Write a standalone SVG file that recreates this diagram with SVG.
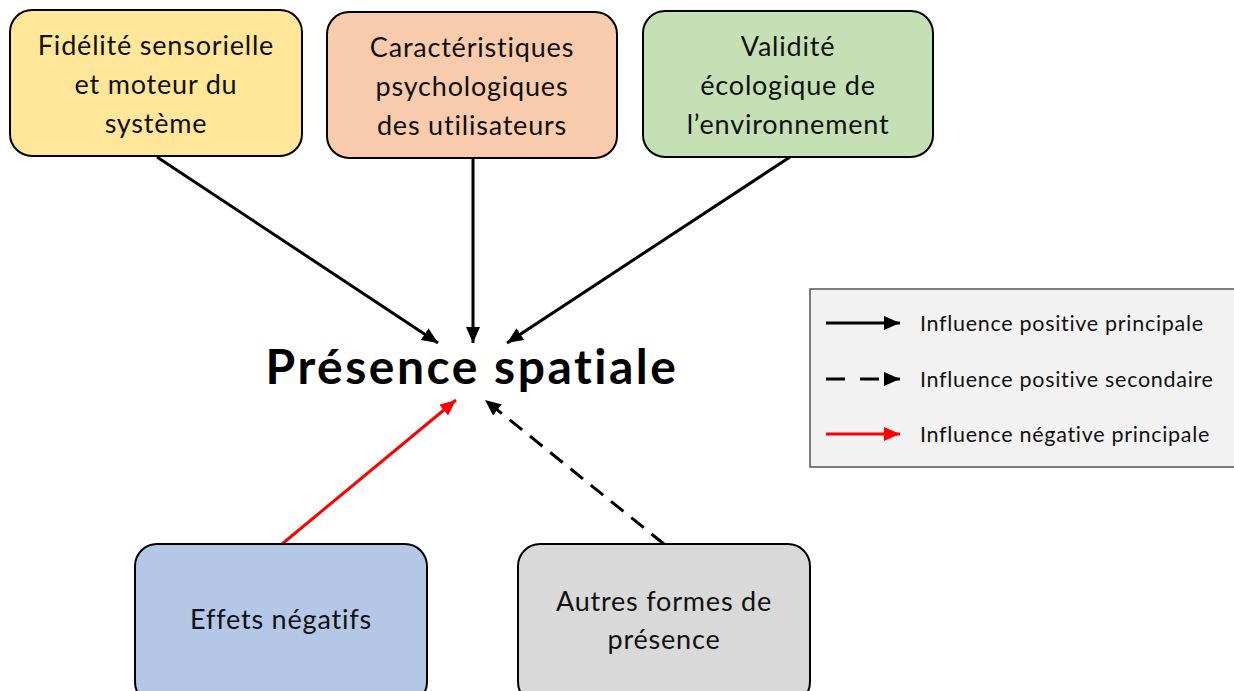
<svg xmlns="http://www.w3.org/2000/svg" width="1234" height="691" viewBox="0 0 1234 691">
<style>
text{font-variant-ligatures:none;font-feature-settings:"liga" 0}
.box{stroke:#000;stroke-width:2}
.t{font-family:Lato,"Liberation Sans",sans-serif;font-size:27px;letter-spacing:0.8px;fill:#111;text-anchor:middle}
.lg{font-family:Lato,"Liberation Sans",sans-serif;font-size:21.5px;letter-spacing:0.7px;fill:#111}
.c{stroke:#000;stroke-width:3;fill:none}
.r{stroke:#ff0000;stroke-width:3;fill:none}
.d{stroke-dasharray:16 10}
</style>
<defs>
<marker id="ab" markerUnits="userSpaceOnUse" markerWidth="18" markerHeight="16" refX="16" refY="7" orient="auto"><path d="M0,0 L16,7 L0,14 Z" fill="#000"/></marker>
<marker id="ar" markerUnits="userSpaceOnUse" markerWidth="18" markerHeight="16" refX="16" refY="7" orient="auto"><path d="M0,0 L16,7 L0,14 Z" fill="#ff0000"/></marker>
</defs>
<rect width="1234" height="691" fill="#fff"/>
<g id="connectors">
<line class="c" x1="157" y1="157" x2="438" y2="343" marker-end="url(#ab)"/>
<line class="c" x1="473" y1="158" x2="473" y2="343" marker-end="url(#ab)"/>
<line class="c" x1="790" y1="157" x2="507" y2="343" marker-end="url(#ab)"/>
<line class="r" x1="282" y1="544" x2="456" y2="400" marker-end="url(#ar)"/>
<line class="c d" x1="664" y1="544" x2="485" y2="400" marker-end="url(#ab)"/>
</g>
<g id="n-fidelite">
<rect class="box" x="10" y="10" width="292" height="146" rx="22" fill="#FFE699"/>
<text class="t" x="156" y="55">Fidélité sensorielle</text>
<text class="t" x="156" y="94">et moteur du</text>
<text class="t" x="156" y="133">système</text>
</g>
<g id="n-carac">
<rect class="box" x="327" y="12" width="290" height="146" rx="22" fill="#F8CBAD"/>
<text class="t" x="472" y="57">Caractéristiques</text>
<text class="t" x="472" y="96">psychologiques</text>
<text class="t" x="472" y="135">des utilisateurs</text>
</g>
<g id="n-validite">
<rect class="box" x="643" y="11" width="290" height="146" rx="22" fill="#C5E0B4"/>
<text class="t" x="788" y="56">Validité</text>
<text class="t" x="788" y="95">écologique de</text>
<text class="t" x="788" y="134">l’environnement</text>
</g>
<g id="n-presence">
<text x="472" y="384" font-family="Lato,'Liberation Sans',sans-serif" font-weight="bold" font-size="48" letter-spacing="2.5" text-anchor="middle" fill="#000">Présence spatiale</text>
</g>
<g id="n-effets">
<rect class="box" x="135" y="544" width="292" height="160" rx="22" fill="#B4C7E7"/>
<text class="t" x="281" y="629">Effets négatifs</text>
</g>
<g id="n-autres">
<rect class="box" x="518" y="544" width="292" height="160" rx="22" fill="#D9D9D9"/>
<text class="t" x="664" y="611">Autres formes de</text>
<text class="t" x="664" y="649">présence</text>
</g>
<g id="legend">
<rect x="810" y="289" width="430" height="178" fill="#F2F2F2" stroke="#555" stroke-width="1.5"/>
<line class="c" x1="826" y1="323" x2="900" y2="323" marker-end="url(#ab)"/>
<line class="c" x1="826" y1="379" x2="900" y2="379" stroke-dasharray="19 15" marker-end="url(#ab)"/>
<line class="r" x1="826" y1="434" x2="900" y2="434" marker-end="url(#ar)"/>
<text class="lg" x="920" y="331">Influence positive principale</text>
<text class="lg" x="920" y="387">Influence positive secondaire</text>
<text class="lg" x="920" y="442">Influence négative principale</text>
</g>
</svg>
